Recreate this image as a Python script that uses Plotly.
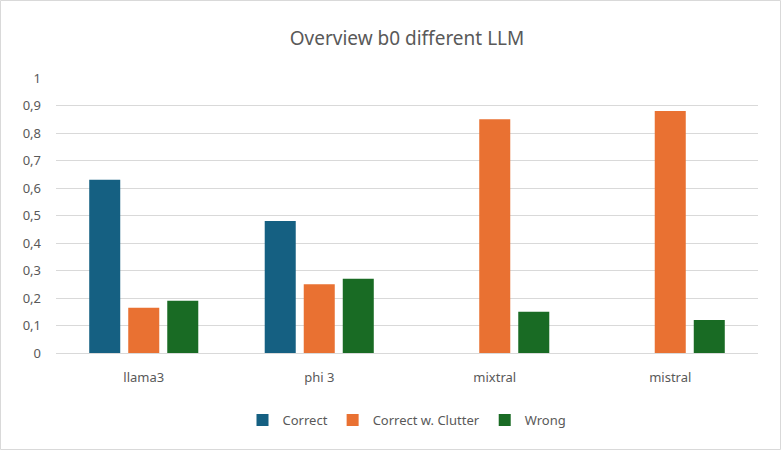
import plotly.graph_objects as go

# values
models = ["llama3", "phi 3", "mixtral", "mistral"]
correct = [0.63, 0.48, 0, 0]
correct_clutter = [0.165, 0.25, 0.85, 0.88]
wrong = [0.19, 0.27, 0.15, 0.12]
y_ticks = [0, 0.1, 0.2, 0.3, 0.4, 0.5, 0.6, 0.7, 0.8, 0.9, 1]
y_tick_labels = ["0", "0,1", "0,2", "0,3", "0,4", "0,5", "0,6", "0,7", "0,8", "0,9", "1"]

series = [
    ("Correct", correct, "#156082"),
    ("Correct w. Clutter", correct_clutter, "#E97132"),
    ("Wrong", wrong, "#196B24"),
]

fig = go.Figure()
for name, vals, color in series:
    fig.add_trace(go.Bar(name=name, x=models, y=vals, marker_color=color,
                         marker_line_width=0))

W, H = 782, 451
ml, mr, mt, mb = 56, 24, 78, 98
pw, ph = W - ml - mr, H - mt - mb

fig.update_layout(
    width=W, height=H,
    margin=dict(l=ml, r=mr, t=mt, b=mb),
    paper_bgcolor="white", plot_bgcolor="white",
    font=dict(family="Noto Sans, Open Sans, sans-serif", color="#595959", size=13),
    title=dict(text="Overview b0 different LLM", x=0.5, xref="paper",
               y=1 - 38 / H, yanchor="middle",
               font=dict(size=19, color="#595959")),
    barmode="group", bargap=0.333, bargroupgap=0.205,
    showlegend=True,
    legend=dict(orientation="h", x=0.5, xanchor="center", xref="paper",
                y=-67 / ph, yanchor="middle", font=dict(size=13),
                itemwidth=30, traceorder="normal"),
    shapes=[dict(type="rect", xref="paper", yref="paper",
                 x0=-(ml - 0.5) / pw, x1=1 + (mr - 1.5) / pw,
                 y0=-(mb - 1.5) / ph, y1=1 + (mt - 0.5) / ph,
                 line=dict(color="#d9d9d9", width=1), layer="below")],
)
fig.update_xaxes(showline=True, linecolor="#d9d9d9", linewidth=1, ticks="",
                 ticklabelstandoff=12,
                 tickfont=dict(size=13, color="#595959"), showgrid=False)
fig.update_yaxes(range=[0, 1], tickvals=y_ticks, ticktext=y_tick_labels,
                 showgrid=True, gridcolor="#d9d9d9", gridwidth=1,
                 zeroline=False, ticks="", ticklabelstandoff=14,
                 tickfont=dict(size=13, color="#595959"))

# drop the default page margin so the figure sits at the window's corner
fig.write_html("out.html", config={"displayModeBar": False},
               post_script="document.body.style.margin='0';")
